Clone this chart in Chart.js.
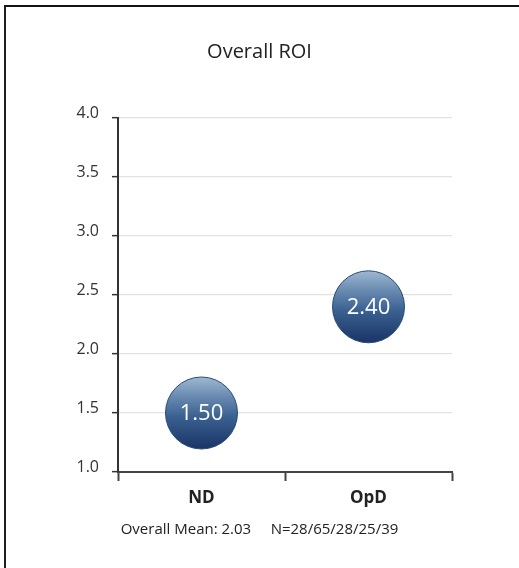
<!DOCTYPE html>
<html>
<head>
<meta charset="utf-8">
<script src="https://cdn.jsdelivr.net/npm/chart.js@4"></script>
<style>
  html, body { margin: 0; padding: 0; background: #ffffff; overflow: hidden; }
  #wrap { position: relative; width: 519px; height: 568px; }
  #frame { position: absolute; left: 4px; top: 5px; right: 0; bottom: 0;
           border-top: 2px solid #151515; border-left: 2px solid #1e1e1e; pointer-events: none; }
</style>
</head>
<body>
<div id="wrap">
  <canvas id="c"></canvas>
  <div id="frame"></div>
</div>
<script>
// ---- data ----
const categories = ['ND', 'OpD'];
const roiValues = [1.50, 2.40];
const yTickValues = [1.0, 1.5, 2.0, 2.5, 3.0, 3.5, 4.0];
const titleText = 'Overall ROI';
const footerText = 'Overall Mean: 2.03\u00a0\u00a0\u00a0\u00a0\u00a0N=28/65/28/25/39';

const FONT = "'Open Sans', 'DejaVu Sans', sans-serif";
const R = 36;

function bubbleFill(ctx) {
  const chart = ctx.chart;
  if (!chart.chartArea || ctx.type !== 'data' || !ctx.parsed) return '#3a6090';
  const cy = chart.scales.y.getPixelForValue(ctx.parsed.y);
  const g = chart.ctx.createLinearGradient(0, cy - R, 0, cy + R);
  g.addColorStop(0, '#9fb8d0');
  g.addColorStop(0.25, '#6d8eb3');
  g.addColorStop(0.55, '#3a6191');
  g.addColorStop(1, '#1a3466');
  return g;
}

const valueLabels = {
  id: 'valueLabels',
  afterDatasetsDraw(chart) {
    const meta = chart.getDatasetMeta(0);
    const c = chart.ctx;
    c.save();
    c.fillStyle = '#ffffff';
    c.font = "22px " + FONT;
    c.textAlign = 'center';
    c.textBaseline = 'middle';
    meta.data.forEach((el, i) => {
      c.fillText(roiValues[i].toFixed(2), el.x, el.y + 1);
    });
    c.restore();
  }
};

new Chart(document.getElementById('c'), {
  type: 'line',
  data: {
    labels: categories,
    datasets: [{
      data: roiValues,
      showLine: false,
      pointRadius: R,
      pointHoverRadius: R,
      pointBackgroundColor: bubbleFill,
      pointHoverBackgroundColor: bubbleFill,
      pointBorderColor: '#294a7a',
      pointBorderWidth: 1
    }]
  },
  options: {
    responsive: true,
    maintainAspectRatio: false,
    animation: false,
    events: [],
    layout: { padding: { left: 67, right: 67, top: 6, bottom: 0 } },
    plugins: {
      legend: { display: false },
      tooltip: { enabled: false },
      title: {
        display: true,
        text: titleText,
        color: '#222222',
        font: { family: FONT, size: 20, weight: 'normal', lineHeight: 1.2 },
        padding: { top: 34, bottom: 54 }
      },
      subtitle: {
        display: true,
        position: 'bottom',
        text: footerText,
        color: '#222222',
        font: { family: FONT, size: 15, weight: 'normal', lineHeight: 1.2 },
        padding: { top: 9, bottom: 29 }
      }
    },
    scales: {
      x: {
        type: 'category',
        offset: true,
        afterFit(scale) { scale.height = 40; },
        grid: {
          display: true,
          offset: true,
          drawOnChartArea: false,
          drawTicks: true,
          tickLength: 9,
          tickColor: '#444444',
          tickWidth: 2
        },
        border: { display: true, color: '#444444', width: 2 },
        ticks: {
          color: '#222222',
          padding: 7,
          font: { family: FONT, size: 17, weight: 'bold' }
        }
      },
      y: {
        min: 1,
        max: 4,
        afterFit(scale) { scale.width = 51; },
        afterBuildTicks(scale) { scale.ticks = yTickValues.map(v => ({ value: v })); },
        grid: {
          color: '#e2e2e2',
          lineWidth: 1.3,
          tickLength: 6,
          tickColor: '#333333',
          tickWidth: 1.5
        },
        border: { display: true, color: '#333333', width: 2 },
        ticks: {
          color: '#333333',
          padding: 13,
          labelOffset: -5,
          font: { family: FONT, size: 16 },
          callback: (v) => Number(v).toFixed(1)
        }
      }
    }
  },
  plugins: [valueLabels]
});
</script>
</body>
</html>
